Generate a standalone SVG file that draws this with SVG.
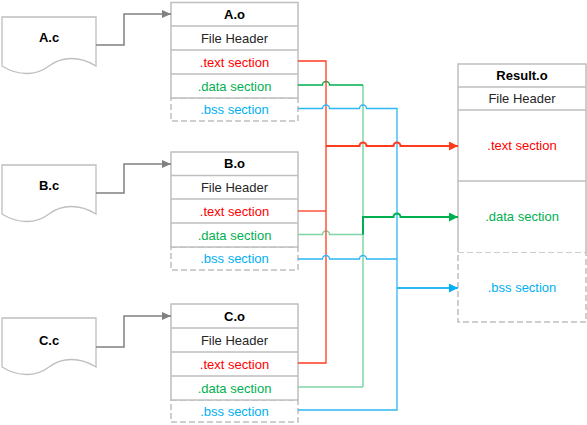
<svg xmlns="http://www.w3.org/2000/svg" width="587" height="425" viewBox="0 0 587 425">
<style>
text{font-family:"Liberation Sans",Arial,sans-serif;font-size:13px;text-anchor:middle}
.t{font-weight:bold;fill:#000}
.fh{fill:#262626}
.tx{fill:#ff0000}
.dt{fill:#00b050}
.bs{fill:#00b0f0}
.box{fill:#fff;stroke:#bfbfbf;stroke-width:1.5}
.sep{stroke:#bfbfbf;stroke-width:1.5;fill:none}
.dash{fill:#fff;stroke:#bfbfbf;stroke-width:1.5;stroke-dasharray:6,3}
.doc{fill:#fff;stroke:#bfbfbf;stroke-width:1.3}
.ga{fill:none;stroke:#808080;stroke-width:1.5}
.r{fill:none;stroke:#ff3b1f;stroke-width:1.3}
.g{fill:none;stroke:#00b050;stroke-width:1.3}
.gl{fill:none;stroke:#80d4a4;stroke-width:1.5}
.b{fill:none;stroke:#2db7f5;stroke-width:1.3}
.out{stroke-width:2}
</style>
<defs>
<marker id="ag" markerUnits="userSpaceOnUse" markerWidth="9" markerHeight="8" refX="9" refY="4" orient="auto"><path d="M0,0 L9,4 L0,8 Z" fill="#808080"/></marker>
<marker id="ar" markerUnits="userSpaceOnUse" markerWidth="9" markerHeight="9" refX="9" refY="4.5" orient="auto"><path d="M0,0 L9,4.5 L0,9 Z" fill="#ff3b1f"/></marker>
<marker id="agr" markerUnits="userSpaceOnUse" markerWidth="9" markerHeight="9" refX="9" refY="4.5" orient="auto"><path d="M0,0 L9,4.5 L0,9 Z" fill="#00b050"/></marker>
<marker id="ab" markerUnits="userSpaceOnUse" markerWidth="9" markerHeight="9" refX="9" refY="4.5" orient="auto"><path d="M0,0 L9,4.5 L0,9 Z" fill="#00b0f0"/></marker>
</defs>

<g id="A.c">
<path class="doc" d="M2,17 H96 V66 C80,56 62,56 49,66 C36,76 18,76 2,66 Z"/>
<text class="t" x="49" y="42">A.c</text>
</g>
<g id="B.c">
<path class="doc" d="M2,165 H96 V214 C80,204 62,204 49,214 C36,224 18,224 2,214 Z"/>
<text class="t" x="49" y="190">B.c</text>
</g>
<g id="C.c">
<path class="doc" d="M2,318 H96 V367 C80,357 62,357 49,367 C36,377 18,377 2,367 Z"/>
<text class="t" x="49" y="345">C.c</text>
</g>

<g id="A.o">
<rect class="dash" x="171" y="98" width="127" height="23"/>
<rect class="box" x="171" y="2.5" width="127" height="95.5"/>
<path class="sep" d="M171,26 H298 M171,50 H298 M171,74 H298"/>
<text class="t" x="234.5" y="19">A.o</text>
<text class="fh" x="234.5" y="43">File Header</text>
<text class="tx" x="234.5" y="67">.text section</text>
<text class="dt" x="234.5" y="91">.data section</text>
<text class="bs" x="234.5" y="114">.bss section</text>
</g>

<g id="B.o">
<rect class="dash" x="171" y="247" width="127" height="23"/>
<rect class="box" x="171" y="152" width="127" height="95"/>
<path class="sep" d="M171,175.5 H298 M171,199 H298 M171,223 H298"/>
<text class="t" x="234.5" y="168">B.o</text>
<text class="fh" x="234.5" y="192">File Header</text>
<text class="tx" x="234.5" y="216">.text section</text>
<text class="dt" x="234.5" y="240">.data section</text>
<text class="bs" x="234.5" y="263">.bss section</text>
</g>

<g id="C.o">
<rect class="dash" x="171" y="400" width="127" height="22"/>
<rect class="box" x="171" y="304" width="127" height="96"/>
<path class="sep" d="M171,328 H298 M171,352 H298 M171,376 H298"/>
<text class="t" x="234.5" y="320.5">C.o</text>
<text class="fh" x="234.5" y="344.5">File Header</text>
<text class="tx" x="234.5" y="368.5">.text section</text>
<text class="dt" x="234.5" y="392.5">.data section</text>
<text class="bs" x="234.5" y="415.5">.bss section</text>
</g>

<g id="Result.o">
<rect class="dash" x="458" y="252" width="128" height="70"/>
<path class="box" d="M458,252 V64 H586 V252"/>
<path class="sep" d="M458,87 H586 M458,110 H586 M458,181 H586"/>
<text class="t" x="522" y="80">Result.o</text>
<text class="fh" x="522" y="103">File Header</text>
<text class="tx" x="522" y="150">.text section</text>
<text class="dt" x="522" y="221">.data section</text>
<text class="bs" x="522" y="292">.bss section</text>
</g>

<g id="connectors">
<path class="ga" d="M96,45 H124 V14 H171" marker-end="url(#ag)"/>
<path class="ga" d="M96,193 H124 V164 H171" marker-end="url(#ag)"/>
<path class="ga" d="M96,347 H124 V316 H171" marker-end="url(#ag)"/>

<path class="gl" d="M363,85 V387"/>
<path class="gl" d="M298,234.5 H322.5 a3.5,3.5 0 0 1 7,0 H363"/>
<path class="gl" d="M298,387 H363"/>
<path class="g" d="M298,85 H322.5 a3.5,3.5 0 0 1 7,0 H363"/>

<path class="r" d="M298,61 H326 V363 H298"/>
<path class="r" d="M298,211 H326"/>

<path class="b" d="M298,108.5 H322.5 a3.5,3.5 0 0 1 7,0 H359.5 a3.5,3.5 0 0 1 7,0 H397 V410 H298"/>
<path class="b" d="M298,259 H322.5 a3.5,3.5 0 0 1 7,0 H359.5 a3.5,3.5 0 0 1 7,0 H397"/>

<path class="r out" d="M326,146 H359.5 a3.5,3.5 0 0 1 7,0 H393.5 a3.5,3.5 0 0 1 7,0 H458" marker-end="url(#ar)"/>
<path class="g out" d="M363,234.5 V217 H393.5 a3.5,3.5 0 0 1 7,0 H458" marker-end="url(#agr)"/>
<path class="b out" d="M397,288 H458" marker-end="url(#ab)"/>
</g>
</svg>
